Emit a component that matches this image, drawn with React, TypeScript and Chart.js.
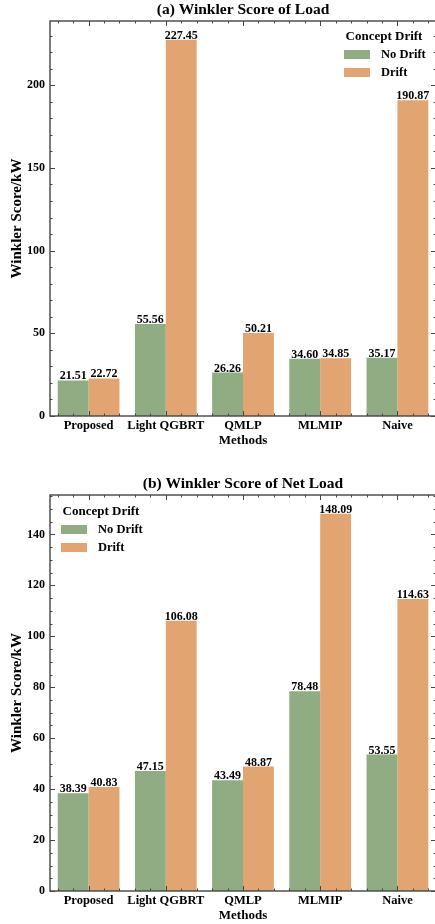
import React, { useEffect, useRef } from 'react';
import { Chart, registerables } from 'chart.js';

Chart.register(...registerables);

const categories = ['Proposed', 'Light QGBRT', 'QMLP', 'MLMIP', 'Naive'];
const seriesNames = ['No Drift', 'Drift'];
const legendTitle = 'Concept Drift';
const xTitle = 'Methods';
const yTitle = 'Winkler Score/kW';

const loadTitle = '(a) Winkler Score of Load';
const loadNoDrift = [21.51, 55.56, 26.26, 34.6, 35.17];
const loadDrift = [22.72, 227.45, 50.21, 34.85, 190.87];
const loadTicks = [0, 50, 100, 150, 200];
const loadMinorStep = 10;

const netTitle = '(b) Winkler Score of Net Load';
const netNoDrift = [38.39, 47.15, 43.49, 78.48, 53.55];
const netDrift = [40.83, 106.08, 48.87, 148.09, 114.63];
const netTicks = [0, 20, 40, 60, 80, 100, 120, 140];
const netMinorStep = 5;

const GREEN = 'rgb(143,172,131)';
const ORANGE = 'rgb(226,165,114)';
const FRAME = '#454545';
const FONT = '"Liberation Serif", "Times New Roman", serif';

const CW = 440;
const CH = 462;
const PLOT_LEFT = 50;
const PLOT_RIGHT = 436;

type PanelProps = {
  title: string;
  noDrift: number[];
  drift: number[];
  ticks: number[];
  minorStep: number;
  legendSide: 'left' | 'right';
  plotTop: number;
  plotBottom: number;
  titleY: number;
};

function Panel(p: PanelProps) {
  const ref = useRef<HTMLCanvasElement | null>(null);
  useEffect(() => {
    if (!ref.current) return;
    const ymax = Math.max(...p.noDrift, ...p.drift) * 1.05;

    const deco = {
      id: 'deco',
      afterDatasetsDraw(chart: any) {
        const ctx = chart.ctx as CanvasRenderingContext2D;
        const a = chart.chartArea;
        const xs = chart.scales.x;
        const ys = chart.scales.y;
        ctx.save();
        // frame
        ctx.strokeStyle = FRAME;
        ctx.lineWidth = 1.4;
        ctx.strokeRect(a.left, a.top, a.right - a.left, a.bottom - a.top);
        // ticks
        ctx.lineWidth = 1;
        const major = 5;
        const minor = 2.5;
        ctx.beginPath();
        for (let k = -2; k <= categories.length * 5 - 3; k++) {
          const v = k / 5;
          const isMajor = k % 5 === 0;
          const len = isMajor ? major : minor;
          const px = Math.round(xs.getPixelForValue(v)) + 0.5;
          ctx.moveTo(px, a.bottom);
          ctx.lineTo(px, a.bottom - len);
          ctx.moveTo(px, a.top);
          ctx.lineTo(px, a.top + len);
        }
        for (let v = 0; v <= ymax; v += p.minorStep) {
          const isMajor = p.ticks.includes(v);
          const len = isMajor ? major : minor;
          const py = Math.round(ys.getPixelForValue(v)) + 0.5;
          ctx.moveTo(a.left, py);
          ctx.lineTo(a.left + len, py);
          ctx.moveTo(a.right, py);
          ctx.lineTo(a.right - len, py);
        }
        ctx.stroke();

        // value labels
        ctx.fillStyle = '#000';
        ctx.font = `bold 12px ${FONT}`;
        ctx.textAlign = 'center';
        ctx.textBaseline = 'alphabetic';
        chart.data.datasets.forEach((ds: any, di: number) => {
          const meta = chart.getDatasetMeta(di);
          meta.data.forEach((bar: any, i: number) => {
            ctx.fillText(Number(ds.data[i]).toFixed(2), bar.x, bar.y - 1);
          });
        });

        // title
        const cx = (a.left + a.right) / 2;
        ctx.font = `bold 15.5px ${FONT}`;
        ctx.textBaseline = 'middle';
        ctx.fillText(p.title, cx, p.titleY);

        // x title
        ctx.font = `bold 13px ${FONT}`;
        ctx.textBaseline = 'alphabetic';
        ctx.fillText(xTitle, cx, a.bottom + 28);

        // y title
        ctx.save();
        ctx.translate(17, (a.top + a.bottom) / 2);
        ctx.rotate(-Math.PI / 2);
        ctx.font = `bold 15px ${FONT}`;
        ctx.textBaseline = 'middle';
        ctx.fillText(yTitle, 0, 0);
        ctx.restore();

        // legend
        const lx = p.legendSide === 'right' ? 344 : 61;
        const ly = a.top + (p.legendSide === 'right' ? 16 : 17);
        ctx.font = `bold 13px ${FONT}`;
        ctx.textAlign = 'center';
        ctx.textBaseline = 'middle';
        ctx.fillText(legendTitle, lx + 40, ly);
        ctx.font = `bold 12.5px ${FONT}`;
        ctx.textAlign = 'left';
        chart.data.datasets.forEach((ds: any, di: number) => {
          const cy = ly + 17.5 + di * 18;
          ctx.fillStyle = ds.backgroundColor;
          ctx.fillRect(lx, cy - 4.5, 26, 9);
          ctx.fillStyle = '#000';
          ctx.fillText(ds.label, lx + 37, cy);
        });
        ctx.restore();
      },
    };

    const chart = new Chart(ref.current, {
      type: 'bar',
      data: {
        labels: categories,
        datasets: [
          { label: seriesNames[0], data: p.noDrift, backgroundColor: GREEN, borderWidth: 0 },
          { label: seriesNames[1], data: p.drift, backgroundColor: ORANGE, borderWidth: 0 },
        ],
      },
      options: {
        animation: false,
        responsive: false,
        maintainAspectRatio: false,
        devicePixelRatio: 1,
        layout: { padding: { top: p.plotTop, left: 0, right: CW - PLOT_RIGHT, bottom: 0 } },
        datasets: { bar: { categoryPercentage: 0.8, barPercentage: 1.0 } },
        plugins: { legend: { display: false }, title: { display: false }, tooltip: { enabled: false } },
        scales: {
          x: {
            type: 'category',
            offset: true,
            grid: { display: false, drawTicks: false, tickLength: 0 },
            border: { display: false },
            ticks: {
              color: '#000',
              font: { family: FONT, size: 12.5, weight: 'bold' },
              padding: 2,
              maxRotation: 0,
              autoSkip: false,
            },
            afterFit: (s: any) => {
              s.height = CH - p.plotBottom;
            },
          },
          y: {
            min: 0,
            max: ymax,
            grid: { display: false, drawTicks: false, tickLength: 0 },
            border: { display: false },
            ticks: {
              color: '#000',
              font: { family: FONT, size: 12, weight: 'bold' },
              padding: 5,
            },
            afterBuildTicks: (s: any) => {
              s.ticks = p.ticks.map((v) => ({ value: v }));
            },
            afterFit: (s: any) => {
              s.width = PLOT_LEFT;
            },
          },
        },
      } as any,
      plugins: [deco],
    });
    return () => chart.destroy();
  }, []);
  return (
    <canvas ref={ref} width={CW} height={CH} style={{ display: 'block', width: CW, height: CH }} />
  );
}

export default function App() {
  return (
    <div
      style={{
        position: 'absolute',
        left: 0,
        top: 0,
        width: 435,
        height: 924,
        overflow: 'hidden',
        background: '#fff',
      }}
    >
      <Panel
        title={loadTitle}
        noDrift={loadNoDrift}
        drift={loadDrift}
        ticks={loadTicks}
        minorStep={loadMinorStep}
        legendSide="right"
        plotTop={21}
        plotBottom={416}
        titleY={10}
      />
      <Panel
        title={netTitle}
        noDrift={netNoDrift}
        drift={netDrift}
        ticks={netTicks}
        minorStep={netMinorStep}
        legendSide="left"
        plotTop={33}
        plotBottom={429}
        titleY={22}
      />
    </div>
  );
}
